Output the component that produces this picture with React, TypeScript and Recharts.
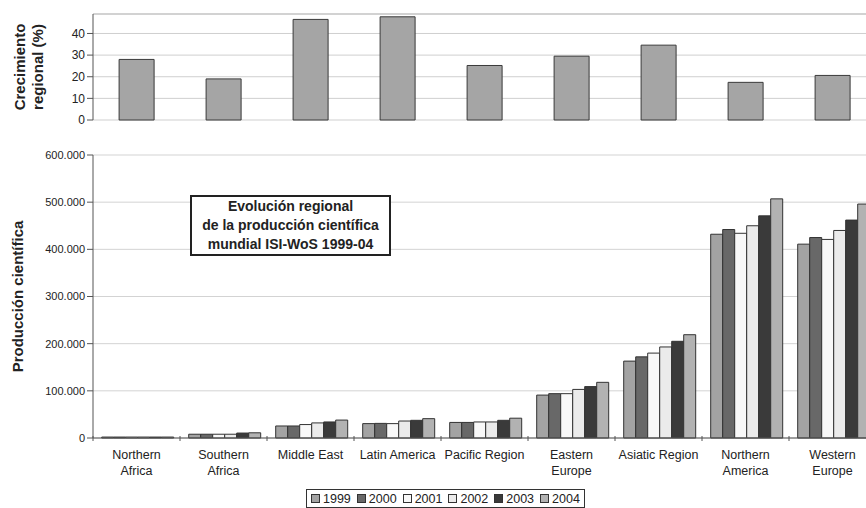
import { Bar, BarChart, CartesianGrid, ReferenceLine, XAxis, YAxis } from "recharts";

const categories = [
  "Northern Africa",
  "Southern Africa",
  "Middle East",
  "Latin America",
  "Pacific Region",
  "Eastern Europe",
  "Asiatic Region",
  "Northern America",
  "Western Europe",
];
const tickLines = [
  ["Northern", "Africa"],
  ["Southern", "Africa"],
  ["Middle East"],
  ["Latin America"],
  ["Pacific Region"],
  ["Eastern", "Europe"],
  ["Asiatic Region"],
  ["Northern", "America"],
  ["Western", "Europe"],
];

// Crecimiento regional (%)
const growth = [28, 19, 46.5, 47.7, 25.2, 29.5, 34.6, 17.4, 20.6];
const growthTicks = [0, 10, 20, 30, 40];

const years = ["1999", "2000", "2001", "2002", "2003", "2004"];
const p1999 = [2000, 8000, 25500, 30500, 33000, 91000, 163000, 432000, 411000];
const p2000 = [2000, 8000, 25500, 31000, 33000, 94000, 172000, 442000, 425000];
const p2001 = [2000, 8000, 28500, 30500, 34000, 94000, 180000, 434000, 421000];
const p2002 = [2000, 8000, 32000, 36000, 34000, 103000, 193000, 450000, 440000];
const p2003 = [2000, 10500, 34000, 37500, 37500, 109000, 205000, 471000, 462000];
const p2004 = [2000, 11000, 38000, 41000, 42000, 118000, 219000, 507000, 496000];
const prodTicks = [0, 100000, 200000, 300000, 400000, 500000, 600000];

const yearColors = ["#a3a3a3", "#686868", "#f8f8f8", "#ebebeb", "#3a3a3a", "#b2b2b2"];

const series = [p1999, p2000, p2001, p2002, p2003, p2004];
const growthData = categories.map((c, i) => ({ region: c, growth: growth[i] }));
const prodData = categories.map((c, i) => {
  const row: Record<string, string | number> = { region: c };
  years.forEach((y, k) => (row[y] = series[k][i]));
  return row;
});

const FONT = "Arial, 'Liberation Sans', sans-serif";
const CHART_W = 880;
const LEFT = 93;
const RIGHT = 4;
const BAND = (CHART_W - LEFT - RIGHT) / categories.length;

const fmtProd = (v: number) => (v === 0 ? "0" : `${v / 1000}.000`);

function CategoryTick(props: any) {
  const { x, y, index } = props;
  const lines = tickLines[index] || [];
  return (
    <g>
      <line x1={x - BAND / 2} x2={x - BAND / 2} y1={y - 10} y2={y - 5} stroke="#555" />
      <text x={x} y={y + 13} textAnchor="middle" fontSize={12.5} fontFamily={FONT} fill="#222">
        {lines.map((l: string, k: number) => (
          <tspan key={k} x={x} dy={k === 0 ? 0 : 15.5}>
            {l}
          </tspan>
        ))}
      </text>
    </g>
  );
}

export default function App() {
  return (
    <div
      style={{
        position: "fixed",
        left: 0,
        top: 0,
        width: 866,
        height: 508,
        overflow: "hidden",
        background: "#fff",
        fontFamily: FONT,
      }}
    >
      <div style={{ position: "absolute", left: 0, top: 0 }}>
        <BarChart
          width={CHART_W}
          height={128}
          data={growthData}
          margin={{ top: 14, right: RIGHT, left: 0, bottom: 8 }}
          barCategoryGap="30%"
        >
          <CartesianGrid vertical={false} stroke="#cfcfcf" />
          <ReferenceLine y={49} stroke="#bdbdbd" />
          <XAxis dataKey="region" height={0} tick={false} tickLine={false} axisLine={{ stroke: "#9a9a9a" }} />
          <YAxis
            width={LEFT}
            domain={[0, 49]}
            ticks={growthTicks}
            interval={0}
            tickSize={6}
            tickLine={{ stroke: "#555" }}
            axisLine={{ stroke: "#555" }}
            tick={{ fontSize: 12, fontFamily: FONT, fill: "#222" }}
            label={(p: any) => {
              const vb = p.viewBox || {};
              const cy = (vb.y || 14) + (vb.height || 106) / 2;
              return (
                <text
                  transform={`translate(29, ${cy}) rotate(-90)`}
                  textAnchor="middle"
                  fontSize={15}
                  fontWeight="bold"
                  fontFamily={FONT}
                  fill="#222"
                >
                  <tspan x={0} dy={-4}>Crecimiento</tspan>
                  <tspan x={0} dy={18}>regional (%)</tspan>
                </text>
              );
            }}
          />
          <Bar dataKey="growth" fill="#a5a5a5" stroke="#3a3a3a" strokeWidth={1} isAnimationActive={false} />
        </BarChart>
      </div>

      <div style={{ position: "absolute", left: 0, top: 130 }}>
        <BarChart
          width={CHART_W}
          height={360}
          data={prodData}
          margin={{ top: 25, right: RIGHT, left: 0, bottom: 0 }}
          barCategoryGap="10%"
          barGap={0}
        >
          <CartesianGrid vertical={false} stroke="#d3d3d3" />
          <XAxis
            dataKey="region"
            height={52}
            interval={0}
            tickLine={false}
            axisLine={{ stroke: "#555" }}
            tick={<CategoryTick />}
          />
          <YAxis
            width={LEFT}
            domain={[0, 600000]}
            ticks={prodTicks}
            interval={0}
            tickSize={6}
            tickFormatter={fmtProd}
            tickLine={{ stroke: "#555" }}
            axisLine={{ stroke: "#555" }}
            tick={{ fontSize: 11, fontFamily: FONT, fill: "#222" }}
            label={(p: any) => {
              const vb = p.viewBox || {};
              const cy = (vb.y || 25) + (vb.height || 283) / 2;
              return (
                <text
                  transform={`translate(23, ${cy}) rotate(-90)`}
                  textAnchor="middle"
                  fontSize={15}
                  fontWeight="bold"
                  fontFamily={FONT}
                  fill="#222"
                >
                  Producción científica
                </text>
              );
            }}
          />
          {years.map((y, k) => (
            <Bar
              key={y}
              dataKey={y}
              fill={yearColors[k]}
              stroke="#333"
              strokeWidth={1}
              isAnimationActive={false}
            />
          ))}
        </BarChart>
      </div>

      <div
        style={{
          position: "absolute",
          left: 190,
          top: 195,
          width: 197,
          height: 57,
          border: "2px solid #222",
          textAlign: "center",
          fontWeight: "bold",
          fontSize: 14,
          lineHeight: "19px",
          color: "#222",
          background: "#fff",
          whiteSpace: "nowrap",
        }}
      >
        Evolución regional
        <br />
        de la producción científica
        <br />
        mundial ISI-WoS 1999-04
      </div>

      <div
        style={{
          position: "absolute",
          left: 306,
          top: 489,
          height: 17,
          padding: "0 4px",
          border: "1px solid #333",
          display: "flex",
          alignItems: "center",
          gap: 6,
          fontSize: 12.5,
          color: "#222",
          background: "#fff",
        }}
      >
        {years.map((y, k) => (
          <span key={y} style={{ display: "flex", alignItems: "center", gap: 3 }}>
            <span
              style={{
                display: "inline-block",
                width: 7,
                height: 7,
                border: "1px solid #333",
                background: yearColors[k],
              }}
            />
            {y}
          </span>
        ))}
      </div>
    </div>
  );
}
